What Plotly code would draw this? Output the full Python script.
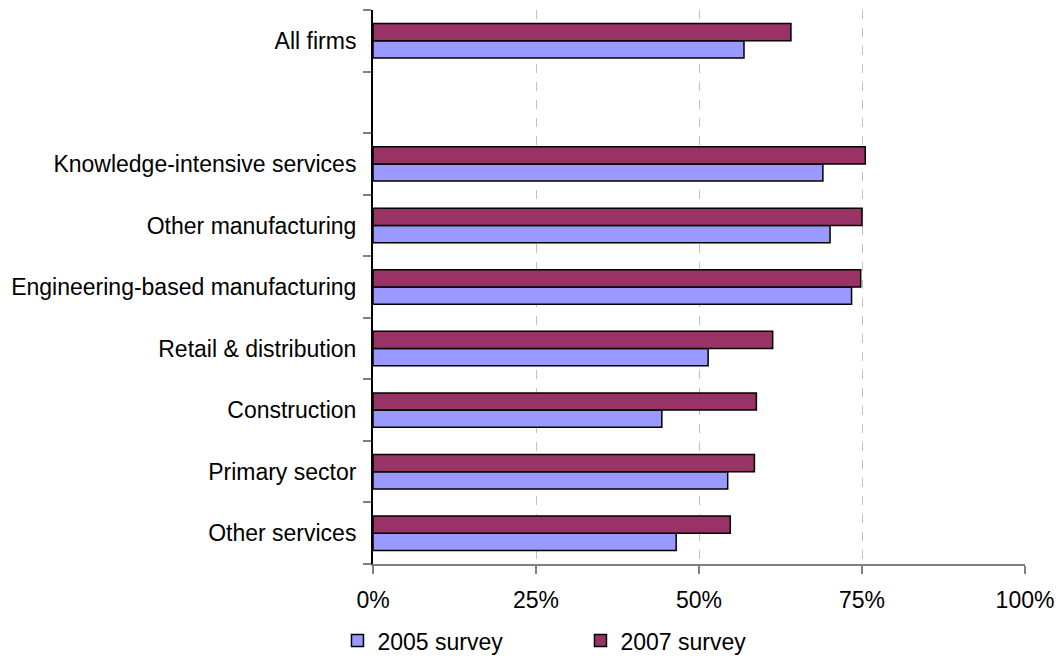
import plotly.graph_objects as go

# Sectors from bottom to top; the blank entry leaves a gap under "All firms"
categories = [
    "Other services",
    "Primary sector",
    "Construction",
    "Retail & distribution",
    "Engineering-based manufacturing",
    "Other manufacturing",
    "Knowledge-intensive services",
    " ",
    "All firms",
]

survey_2005 = [46.5, 54.4, 44.3, 51.4, 73.4, 70.1, 69.0, None, 56.9]
survey_2007 = [54.8, 58.5, 58.8, 61.3, 74.8, 75.0, 75.5, None, 64.1]

x_ticks = [0, 25, 50, 75, 100]
x_tick_labels = ["0%", "25%", "50%", "75%", "100%"]

FONT = "Arial, 'Liberation Sans', sans-serif"

fig = go.Figure()
fig.add_trace(go.Bar(
    name="2005 survey", y=categories, x=survey_2005, orientation="h",
    marker=dict(color="#9999FF", line=dict(color="#000000", width=1.5)),
))
fig.add_trace(go.Bar(
    name="2007 survey", y=categories, x=survey_2007, orientation="h",
    marker=dict(color="#993366", line=dict(color="#000000", width=1.5)),
))

fig.update_layout(
    width=1059, height=668,
    margin=dict(l=373, r=34, t=10, b=104, autoexpand=False),
    paper_bgcolor="white", plot_bgcolor="white",
    font=dict(family=FONT, size=23, color="#000000"),
    barmode="group", bargap=0.44, bargroupgap=0,
    showlegend=True,
    legend=dict(
        orientation="h", x=-0.0545, xanchor="left", y=-0.0994, yanchor="top",
        font=dict(size=23), entrywidth=198, entrywidthmode="pixels",
        traceorder="normal",
    ),
)

fig.update_xaxes(
    range=[0, 100], tickvals=x_ticks, ticktext=x_tick_labels,
    showgrid=True, gridcolor="#C0C0C0", griddash="dash", gridwidth=1,
    showline=True, linecolor="#808080", linewidth=2,
    ticks="outside", ticklen=8, tickwidth=2, tickcolor="#808080",
    zeroline=False, ticklabelstandoff=6, automargin=False,
)
fig.update_yaxes(
    type="category", categoryorder="array", categoryarray=categories,
    tickson="boundaries", ticks="outside", ticklen=8, tickwidth=2,
    tickcolor="#808080", showline=True, linecolor="#000000", linewidth=2,
    showgrid=False, ticklabelstandoff=10, automargin=False,
)

fig.write_html("out.html")
